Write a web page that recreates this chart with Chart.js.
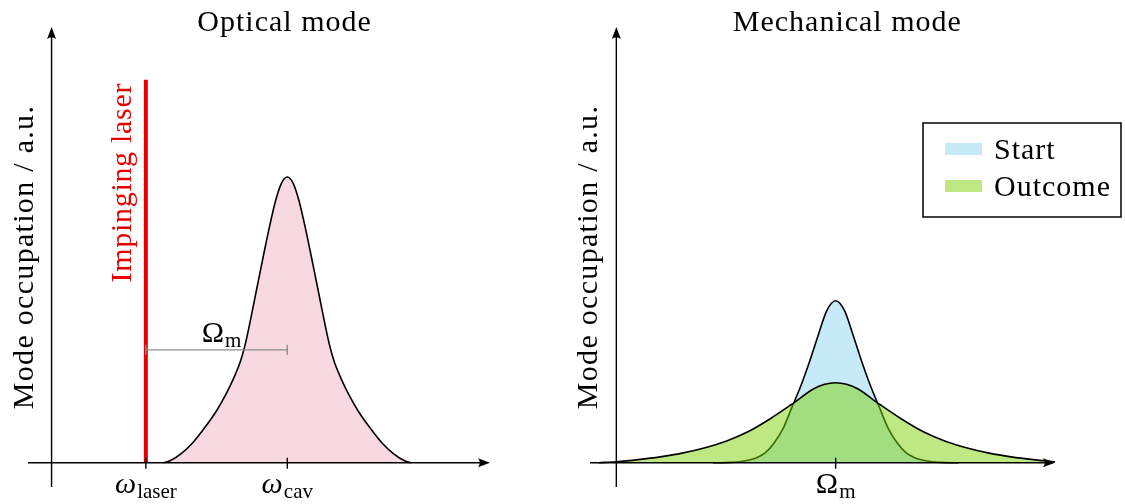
<!DOCTYPE html>
<html>
<head>
<meta charset="utf-8">
<script src="https://cdn.jsdelivr.net/npm/chart.js@4.4.1/dist/chart.umd.min.js"></script>
<style>
  html, body { margin: 0; padding: 0; background: #fff; }
  #wrap { position: relative; width: 1125px; height: 504px; }
  canvas { position: absolute; top: 0; }
</style>
</head>
<body>
<div id="wrap">
  <canvas id="optical" width="560" height="504" style="left:0"></canvas>
  <canvas id="mechanical" width="565" height="504" style="left:560px"></canvas>
</div>
<script>
// --- optical mode (arbitrary units, cavity peak = 1) ---
const laserFreq = 2;
const cavityFreq = 5;
const laserLevel = 1.34;
const detuningLevel = 0.395;
const opticalX = [2.375, 2.5, 2.75, 3.0, 3.25, 3.5, 3.7, 3.8, 3.9, 4.0, 4.1, 4.2, 4.3, 4.45, 4.6, 4.75, 4.875, 5.0,
                  5.125, 5.25, 5.4, 5.55, 5.7, 5.8, 5.9, 6.0, 6.1, 6.2, 6.3, 6.5, 6.75, 7.0, 7.25, 7.5, 7.625];
const opticalY = [0, 0.006, 0.032, 0.071, 0.123, 0.182, 0.24, 0.273, 0.31, 0.352, 0.409, 0.484, 0.566, 0.689, 0.809, 0.916, 0.978, 1.0,
                  0.978, 0.916, 0.809, 0.689, 0.566, 0.484, 0.409, 0.352, 0.31, 0.273, 0.24, 0.182, 0.123, 0.071, 0.032, 0.006, 0];

// --- mechanical mode (arbitrary units, start peak = 1) ---
const mechFreq = 5;
const startX = [2.2, 2.4, 2.6, 2.8, 3.0, 3.2, 3.4, 3.6, 3.8, 4.0, 4.2, 4.4, 4.6, 4.8, 5.0,
                5.2, 5.4, 5.6, 5.8, 6.0, 6.2, 6.4, 6.6, 6.8, 7.0, 7.2, 7.4, 7.6, 7.8];
const startY = [0, 0, 0.002, 0.006, 0.015, 0.031, 0.062, 0.123, 0.21, 0.34, 0.47, 0.62, 0.785, 0.94, 1.0,
                0.94, 0.785, 0.62, 0.47, 0.34, 0.21, 0.123, 0.062, 0.031, 0.015, 0.006, 0.002, 0, 0];
const outcomeX = [-0.4, 0, 0.5, 1, 1.5, 2, 2.5, 3, 3.5, 4, 4.5, 4.75, 5,
                  5.25, 5.5, 6, 6.5, 7, 7.5, 8, 8.5, 9, 9.5, 10];
const outcomeY = [0, 0.006, 0.019, 0.036, 0.059, 0.091, 0.133, 0.191, 0.27, 0.361, 0.457, 0.484, 0.494,
                  0.484, 0.457, 0.361, 0.27, 0.191, 0.133, 0.091, 0.059, 0.036, 0.019, 0.006];

const SERIF = '"Liberation Serif", "Times New Roman", serif';
const LASER_RED = '#e60000';

const toPoints = (xs, ys) => xs.map((x, i) => ({ x, y: ys[i] }));

function arrowHead(ctx, x, y, angle) {
  ctx.save();
  ctx.translate(x, y);
  ctx.rotate(angle);
  ctx.beginPath();
  ctx.moveTo(0, 0);
  ctx.lineTo(-12, -4.5);
  ctx.quadraticCurveTo(-8.5, 0, -12, 4.5);
  ctx.closePath();
  ctx.fill();
  ctx.restore();
}

function subLabel(ctx, main, sub, cx, base, italic) {
  const mainFont = (italic ? 'italic ' : '') + '30px ' + SERIF;
  const subFont = '21px ' + SERIF;
  ctx.letterSpacing = '0px';
  ctx.font = mainFont;
  const wm = ctx.measureText(main).width;
  ctx.font = subFont;
  const ws = ctx.measureText(sub).width;
  const left = cx - (wm + 1 + ws) / 2;
  ctx.textAlign = 'left';
  ctx.textBaseline = 'alphabetic';
  ctx.font = mainFont;
  ctx.fillText(main, left, base);
  ctx.font = subFont;
  ctx.fillText(sub, left + wm + 1, base + 5);
}

// hand-drawn style axes: arrows, named ticks, title, rotated y label, boxed legend
const sketchAxes = {
  id: 'sketchAxes',
  afterDatasetsDraw(chart, args, opts) {
    const { ctx, chartArea: area, scales: { x, y } } = chart;
    const x0 = x.getPixelForValue(0);
    const y0 = y.getPixelForValue(0);
    ctx.save();
    ctx.strokeStyle = '#000';
    ctx.fillStyle = '#000';
    ctx.lineWidth = 1.4;

    ctx.beginPath();
    ctx.moveTo(area.left, y0);
    ctx.lineTo(area.right - 6, y0);
    ctx.stroke();
    arrowHead(ctx, area.right, y0, 0);

    ctx.beginPath();
    ctx.moveTo(x0, area.bottom);
    ctx.lineTo(x0, area.top + 6);
    ctx.stroke();
    arrowHead(ctx, x0, area.top, -Math.PI / 2);

    for (const t of opts.ticks) {
      const px = x.getPixelForValue(t.value);
      ctx.beginPath();
      ctx.moveTo(px, y0 - 5);
      ctx.lineTo(px, y0 + 6);
      ctx.stroke();
      subLabel(ctx, t.main, t.sub, px, y0 + 30, t.italic);
    }

    // title
    ctx.font = '30px ' + SERIF;
    ctx.letterSpacing = '1px';
    ctx.textAlign = 'center';
    ctx.textBaseline = 'alphabetic';
    ctx.fillText(opts.title, x0 + opts.titleOffset, 31);

    // y axis label
    ctx.save();
    ctx.translate(x0 - 19, (area.top + area.bottom) / 2);
    ctx.rotate(-Math.PI / 2);
    ctx.letterSpacing = '1.3px';
    ctx.fillText('Mode occupation / a.u.', 0, 0);
    ctx.restore();

    if (opts.laser) {
      const lx = x.getPixelForValue(laserFreq);
      const ly = y.getPixelForValue(laserLevel);
      ctx.save();
      ctx.fillStyle = LASER_RED;
      ctx.translate(lx - 15, ly + 3);
      ctx.rotate(-Math.PI / 2);
      ctx.textAlign = 'right';
      ctx.letterSpacing = '0.7px';
      ctx.fillText('Impinging laser', 0, 0);
      ctx.restore();

      const bx = (x.getPixelForValue(laserFreq) + x.getPixelForValue(cavityFreq)) / 2 + 5;
      subLabel(ctx, 'Ω', 'm', bx, y.getPixelForValue(detuningLevel) - 8, false);
    }

    if (opts.legend) {
      const L = opts.legend;
      ctx.lineWidth = 1.5;
      ctx.strokeRect(L.x, L.y, L.w, L.h);
      ctx.font = '30px ' + SERIF;
      ctx.letterSpacing = '1px';
      ctx.textAlign = 'left';
      chart.data.datasets.forEach((ds, i) => {
        const top = L.y + 20 + i * 37;
        ctx.fillStyle = '#fff';
        ctx.fillRect(L.x + 22, top, 37, 12);
        ctx.fillStyle = ds.backgroundColor;
        ctx.fillRect(L.x + 22, top, 37, 12);
        ctx.fillStyle = '#000';
        ctx.fillText(ds.label, L.x + 71, top + 16);
      });
    }
    ctx.restore();
  }
};

function baseOptions(xmin, xmax, ymin, ymax, pad, axes) {
  return {
    responsive: false,
    animation: false,
    devicePixelRatio: 1,
    layout: { padding: pad },
    plugins: {
      legend: { display: false },
      tooltip: { enabled: false },
      title: { display: false },
      sketchAxes: axes,
    },
    elements: { point: { radius: 0 } },
    scales: {
      x: { type: 'linear', min: xmin, max: xmax, display: false },
      y: { type: 'linear', min: ymin, max: ymax, display: false },
    },
  };
}

new Chart(document.getElementById('optical'), {
  type: 'line',
  data: {
    datasets: [
      {
        label: 'Cavity',
        data: toPoints(opticalX, opticalY),
        borderColor: '#000',
        borderWidth: 1.6,
        backgroundColor: 'rgb(248, 216, 225)',
        fill: 'origin',
        cubicInterpolationMode: 'monotone',
        order: 3,
      },
      {
        label: 'Laser',
        data: [{ x: laserFreq, y: 0 }, { x: laserFreq, y: laserLevel }],
        borderColor: LASER_RED,
        borderWidth: 4,
        fill: false,
        order: 2,
      },
      {
        label: 'Detuning',
        data: [{ x: laserFreq, y: detuningLevel }, { x: cavityFreq, y: detuningLevel }],
        borderColor: '#8c8c8c',
        borderWidth: 1.4,
        fill: false,
        pointStyle: 'line',
        pointRotation: 90,
        pointRadius: 5,
        pointBorderColor: '#8c8c8c',
        pointBorderWidth: 1.4,
        order: 1,
      },
    ],
  },
  options: baseOptions(-0.5, 9.3, -0.085, 1.525, { left: 28, right: 70, top: 27, bottom: 17 }, {
    title: 'Optical mode',
    titleOffset: 233,
    laser: true,
    ticks: [
      { value: laserFreq, main: 'ω', sub: 'laser', italic: true },
      { value: cavityFreq, main: 'ω', sub: 'cav', italic: true },
    ],
  }),
  plugins: [sketchAxes],
});

new Chart(document.getElementById('mechanical'), {
  type: 'line',
  data: {
    datasets: [
      {
        label: 'Start',
        data: toPoints(startX, startY),
        borderColor: '#000',
        borderWidth: 1.6,
        backgroundColor: 'rgb(198, 234, 248)',
        fill: 'origin',
        cubicInterpolationMode: 'monotone',
        order: 2,
      },
      {
        label: 'Outcome',
        data: toPoints(outcomeX, outcomeY),
        borderColor: '#000',
        borderWidth: 1.6,
        backgroundColor: 'rgba(125, 209, 5, 0.5)',
        fill: 'origin',
        cubicInterpolationMode: 'monotone',
        order: 1,
      },
    ],
  },
  options: baseOptions(-0.6, 10, -0.15, 2.69, { left: 30, right: 70, top: 27, bottom: 17 }, {
    title: 'Mechanical mode',
    titleOffset: 231,
    ticks: [{ value: mechFreq, main: 'Ω', sub: 'm', italic: false }],
    legend: { x: 363, y: 123, w: 198, h: 94 },
  }),
  plugins: [sketchAxes],
});
</script>
</body>
</html>
